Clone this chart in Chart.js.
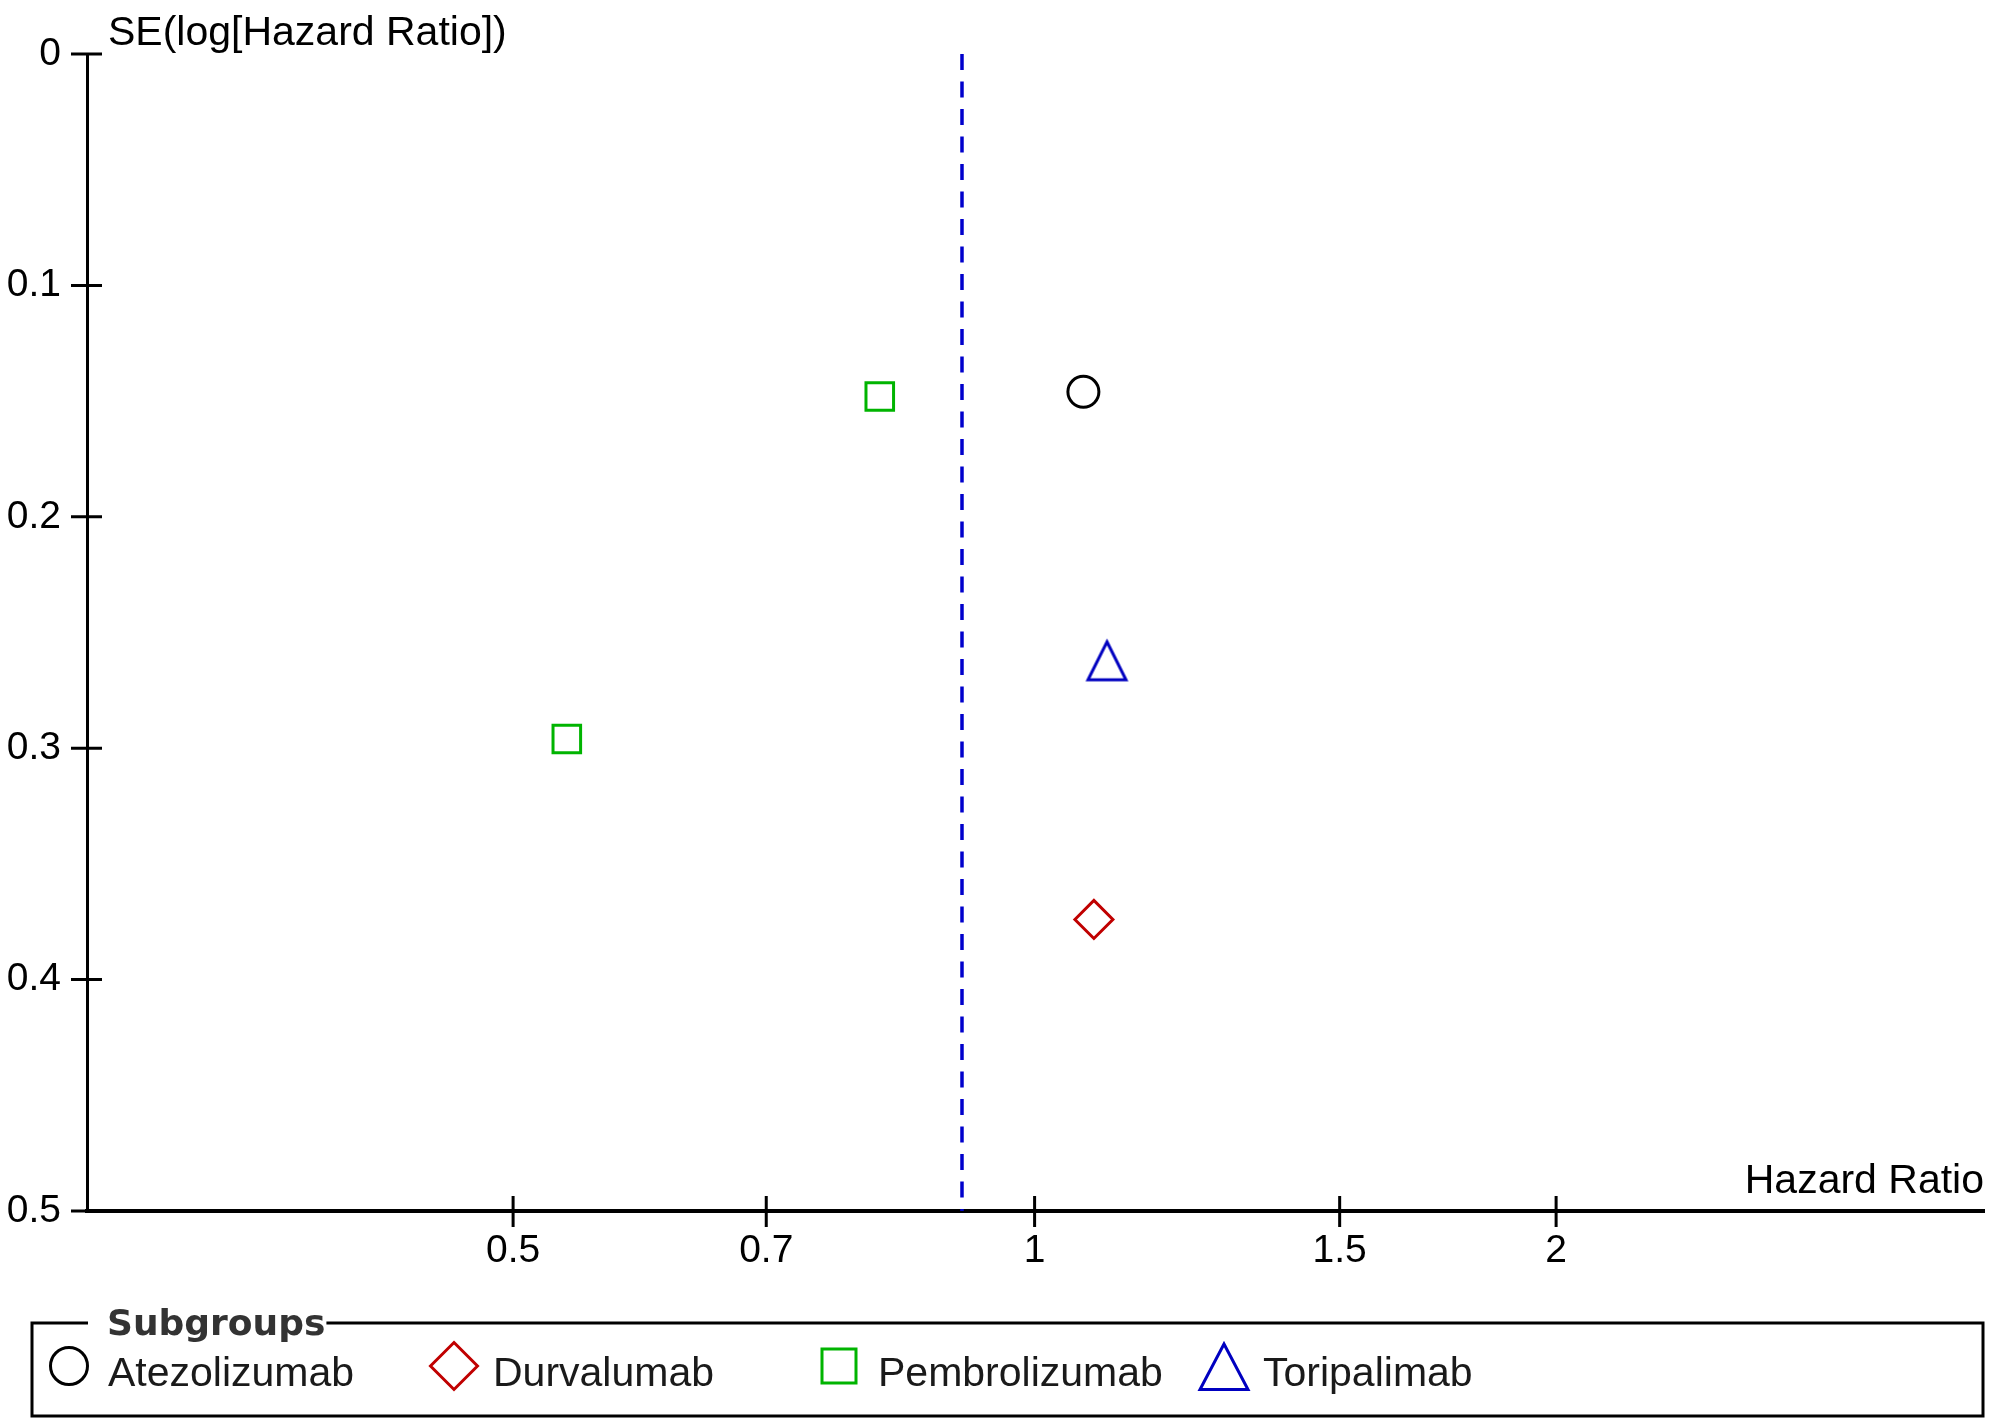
<!DOCTYPE html>
<html>
<head>
<meta charset="utf-8">
<script src="https://cdn.jsdelivr.net/npm/chart.js@4.4.1/dist/chart.umd.min.js"></script>
<style>
  html, body { margin: 0; padding: 0; background: #fff; }
  #wrap { width: 2000px; height: 1426px; }
  canvas { display: block; }
</style>
</head>
<body>
<div id="wrap"><canvas id="funnel" width="2000" height="1426"></canvas></div>
<script>
// data
const subgroups = ['Atezolizumab', 'Durvalumab', 'Pembrolizumab', 'Toripalimab'];
const hazardRatios = [[1.067], [1.082], [0.814, 0.537], [1.101]];
const seLogHR = [[0.146], [0.374], [0.148, 0.296], [0.262]];
const pooledHR = 0.908;

const xTicks = [0.5, 0.7, 1, 1.5, 2];
const xTickLabels = ['0.5', '0.7', '1', '1.5', '2'];
const yTicks = [0, 0.1, 0.2, 0.3, 0.4, 0.5];
const yTickLabels = ['0', '0.1', '0.2', '0.3', '0.4', '0.5'];

const xTitle = 'Hazard Ratio';
const yTitle = 'SE(log[Hazard Ratio])';
const legendTitle = 'Subgroups';

// styles
const FONT = '"Liberation Sans", Arial, sans-serif';
const colors = ['#000000', '#c00000', '#00b400', '#0000c0'];

function triangleStyle(size, color, lw) {
  const c = document.createElement('canvas');
  c.width = size; c.height = size;
  const g = c.getContext('2d');
  g.strokeStyle = color;
  g.lineWidth = lw;
  g.lineJoin = 'miter';
  g.beginPath();
  g.moveTo(size / 2, 4);
  g.lineTo(size - 3.5, size - 3);
  g.lineTo(3.5, size - 3);
  g.closePath();
  g.stroke();
  return c;
}

const markerStyles = ['circle', 'rectRot', 'rect', triangleStyle(45, colors[3], 3)];
const markerRadius = [15.5, 19, 19.5, 22];

const datasets = subgroups.map((name, i) => ({
  label: name,
  data: hazardRatios[i].map((hr, j) => ({ x: hr, y: seLogHR[i][j] })),
  pointStyle: markerStyles[i],
  pointRadius: markerRadius[i],
  pointBorderWidth: 3,
  pointBorderColor: colors[i],
  pointBackgroundColor: 'rgba(0,0,0,0)',
  showLine: false
}));

datasets.push({
  label: 'pooled',
  data: [{ x: pooledHR, y: 0 }, { x: pooledHR, y: 0.5 }],
  showLine: true,
  borderColor: '#0000cc',
  borderWidth: 3.5,
  borderDash: [16, 11.5],
  pointRadius: 0,
  fill: false
});

const axisExtras = {
  id: 'axisExtras',
  afterDraw(chart) {
    const { ctx, chartArea: a, scales: { x, y } } = chart;
    ctx.save();
    ctx.strokeStyle = '#000';
    ctx.lineWidth = 3;
    ctx.beginPath();
    y.ticks.forEach(t => {
      const p = y.getPixelForValue(t.value);
      ctx.moveTo(a.left - 16, p);
      ctx.lineTo(a.left + 15, p);
    });
    x.ticks.forEach(t => {
      const p = x.getPixelForValue(t.value);
      ctx.moveTo(p, a.bottom - 15);
      ctx.lineTo(p, a.bottom + 16);
    });
    ctx.stroke();

    ctx.fillStyle = '#000';
    ctx.font = '41px ' + FONT;
    ctx.textBaseline = 'alphabetic';
    ctx.textAlign = 'left';
    ctx.fillText(yTitle, a.left + 21, a.top - 9);
    ctx.textAlign = 'right';
    ctx.fillText(xTitle, a.right, a.bottom - 18);
    ctx.restore();
  }
};

const subgroupLegend = {
  id: 'subgroupLegend',
  afterDraw(chart) {
    const ctx = chart.ctx;
    const box = { left: 32, top: 1323, right: 1983, bottom: 1416 };
    ctx.save();
    ctx.strokeStyle = '#000';
    ctx.lineWidth = 3;
    ctx.strokeRect(box.left, box.top, box.right - box.left, box.bottom - box.top);

    ctx.font = 'bold 36px "DejaVu Sans", Verdana, sans-serif';
    const tw = ctx.measureText(legendTitle).width;
    ctx.fillStyle = '#fff';
    ctx.fillRect(88, box.top - 4, 107 - 88 + tw + 1, 8);
    ctx.fillStyle = '#333';
    ctx.textAlign = 'left';
    ctx.textBaseline = 'alphabetic';
    ctx.fillText(legendTitle, 107, 1335);

    const cy = 1366;
    chart.data.datasets.slice(0, subgroups.length).forEach((ds, i) => {
      const cx = 69 + i * 385;
      ctx.strokeStyle = colors[i];
      ctx.lineWidth = 3;
      ctx.lineJoin = 'miter';
      ctx.beginPath();
      if (i === 0) {
        ctx.arc(cx, cy, 18.5, 0, Math.PI * 2);
      } else if (i === 1) {
        ctx.moveTo(cx, cy - 23.5); ctx.lineTo(cx + 23.5, cy);
        ctx.lineTo(cx, cy + 23.5); ctx.lineTo(cx - 23.5, cy);
        ctx.closePath();
      } else if (i === 2) {
        ctx.rect(cx - 17, cy - 17, 34, 34);
      } else {
        ctx.moveTo(cx, cy - 22); ctx.lineTo(cx + 24, cy + 23.5);
        ctx.lineTo(cx - 24, cy + 23.5);
        ctx.closePath();
      }
      ctx.stroke();

      ctx.fillStyle = '#1a1a1a';
      ctx.font = '41px ' + FONT;
      ctx.fillText(ds.label, cx + 39, 1386);
    });
    ctx.restore();
  }
};

new Chart(document.getElementById('funnel'), {
  type: 'scatter',
  data: { datasets },
  options: {
    responsive: false,
    devicePixelRatio: 1,
    animation: false,
    events: [],
    clip: false,
    layout: { autoPadding: false, padding: { top: 54, right: 16, bottom: 145, left: 0 } },
    plugins: { legend: { display: false }, tooltip: { enabled: false } },
    scales: {
      x: {
        type: 'logarithmic',
        min: 0.2838,
        max: 3.532,
        afterBuildTicks: s => { s.ticks = xTicks.map(v => ({ value: v })); },
        afterFit: s => { s.height = 70; s.paddingLeft = 0; s.paddingRight = 0; },
        ticks: {
          autoSkip: false,
          maxRotation: 0,
          padding: 17,
          color: '#000',
          font: { family: FONT, size: 39 },
          callback: v => xTickLabels[xTicks.indexOf(v)]
        },
        grid: { display: false, drawTicks: false },
        border: { display: true, color: '#000', width: 4 }
      },
      y: {
        type: 'linear',
        reverse: true,
        min: 0,
        max: 0.5,
        afterBuildTicks: s => { s.ticks = yTicks.map(v => ({ value: v })); },
        afterFit: s => { s.width = 87; s.paddingTop = 0; s.paddingBottom = 0; },
        ticks: {
          padding: 26,
          color: '#000',
          font: { family: FONT, size: 39 },
          callback: v => yTickLabels[yTicks.indexOf(v)]
        },
        grid: { display: false, drawTicks: false },
        border: { display: true, color: '#000', width: 3 }
      }
    }
  },
  plugins: [axisExtras, subgroupLegend]
});
</script>
</body>
</html>
